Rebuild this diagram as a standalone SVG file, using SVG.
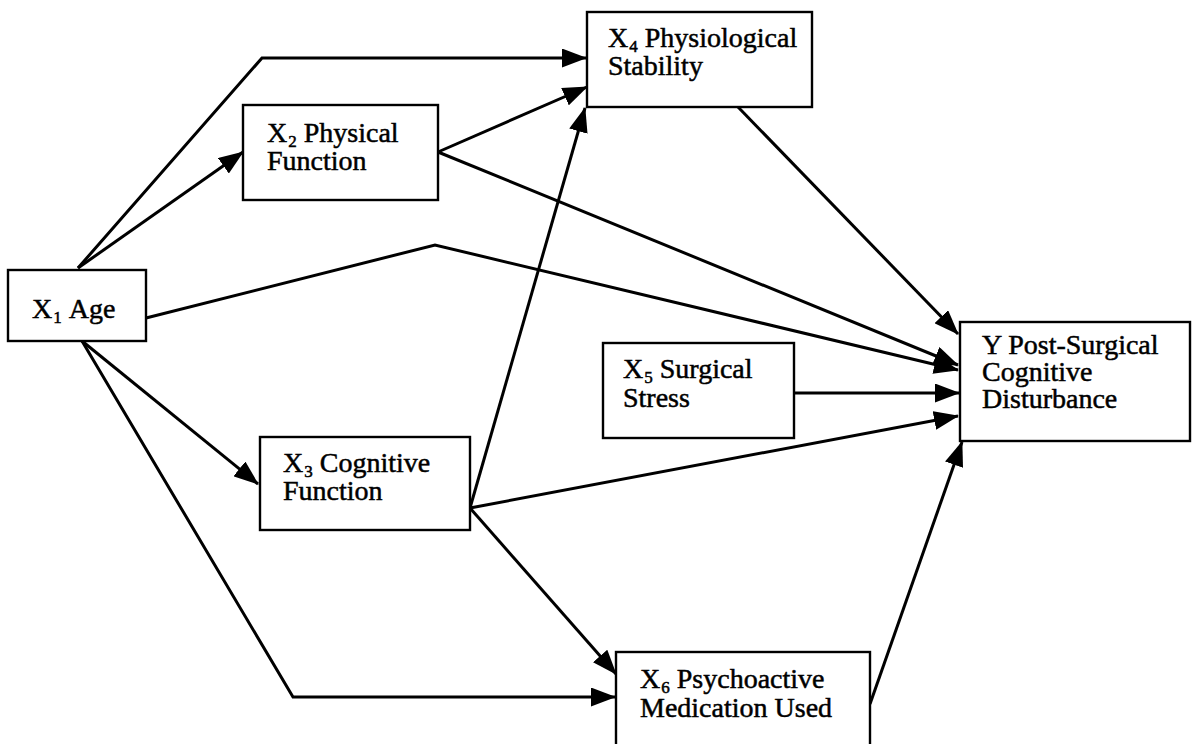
<svg xmlns="http://www.w3.org/2000/svg" width="1195" height="744" viewBox="0 0 1195 744">
  <style>
    .box { fill: #fff; stroke: #000; stroke-width: 2.4; }
    .lbl { font-family: "Liberation Serif", "Times New Roman", serif; font-size: 28px; fill: #000; stroke: #000; stroke-width: 0.5; }
    .sub { font-size: 17px; }
    .edge { fill: none; stroke: #000; stroke-width: 3; stroke-linejoin: miter; marker-end: url(#head); }
  </style>
  <defs>
    <marker id="head" markerUnits="userSpaceOnUse" markerWidth="25" markerHeight="19" viewBox="0 0 25 19" refX="24" refY="9.5" orient="auto">
      <path d="M0,0 L25,9.5 L0,19 Z" fill="#000"/>
    </marker>
  </defs>
  <rect width="1195" height="744" fill="#fff"/>

  <g id="connectors">
    <polyline class="edge" points="78,268 262,58 586,58"/>
    <line class="edge" x1="78" y1="268" x2="243" y2="152"/>
    <polyline class="edge" points="146,318 435,245 958,370"/>
    <line class="edge" x1="82" y1="341" x2="258" y2="484"/>
    <polyline class="edge" points="82,341 293,697 615,697"/>
    <line class="edge" x1="438" y1="152" x2="587" y2="87"/>
    <line class="edge" x1="438" y1="152" x2="958" y2="365"/>
    <line class="edge" x1="470" y1="508" x2="585" y2="108"/>
    <line class="edge" x1="470" y1="508" x2="958" y2="416"/>
    <line class="edge" x1="470" y1="508" x2="616" y2="674"/>
    <line class="edge" x1="738" y1="107" x2="958" y2="334"/>
    <line class="edge" x1="794" y1="393" x2="959" y2="393"/>
    <line class="edge" x1="870" y1="704" x2="962" y2="442"/>
  </g>

  <g id="x1">
    <rect class="box" x="8" y="270" width="138" height="71"/>
    <text class="lbl" x="32" y="318">X<tspan class="sub" dx="1" dy="5">1</tspan><tspan dx="7" dy="-5">Age</tspan></text>
  </g>

  <g id="x2">
    <rect class="box" x="243" y="105" width="195" height="95"/>
    <text class="lbl" x="267" y="142">X<tspan class="sub" dx="1" dy="5">2</tspan><tspan dx="7" dy="-5">Physical</tspan></text>
    <text class="lbl" x="267" y="170">Function</text>
  </g>

  <g id="x4">
    <rect class="box" x="587" y="12" width="225" height="95"/>
    <text class="lbl" x="608" y="47">X<tspan class="sub" dx="1" dy="5">4</tspan><tspan dx="7" dy="-5">Physiological</tspan></text>
    <text class="lbl" x="608" y="75">Stability</text>
  </g>

  <g id="x3">
    <rect class="box" x="260" y="437" width="210" height="93"/>
    <text class="lbl" x="283" y="472">X<tspan class="sub" dx="1" dy="5">3</tspan><tspan dx="7" dy="-5">Cognitive</tspan></text>
    <text class="lbl" x="283" y="500">Function</text>
  </g>

  <g id="x5">
    <rect class="box" x="603" y="343" width="191" height="95"/>
    <text class="lbl" x="623" y="378">X<tspan class="sub" dx="1" dy="5">5</tspan><tspan dx="7" dy="-5">Surgical</tspan></text>
    <text class="lbl" x="623" y="407">Stress</text>
  </g>

  <g id="x6">
    <rect class="box" x="616" y="652" width="254" height="110"/>
    <text class="lbl" x="640" y="688">X<tspan class="sub" dx="1" dy="5">6</tspan><tspan dx="7" dy="-5">Psychoactive</tspan></text>
    <text class="lbl" x="640" y="717">Medication Used</text>
  </g>

  <g id="y">
    <rect class="box" x="960" y="322" width="230" height="119"/>
    <text class="lbl" x="982" y="354">Y Post-Surgical</text>
    <text class="lbl" x="982" y="381">Cognitive</text>
    <text class="lbl" x="982" y="408">Disturbance</text>
  </g>
</svg>
